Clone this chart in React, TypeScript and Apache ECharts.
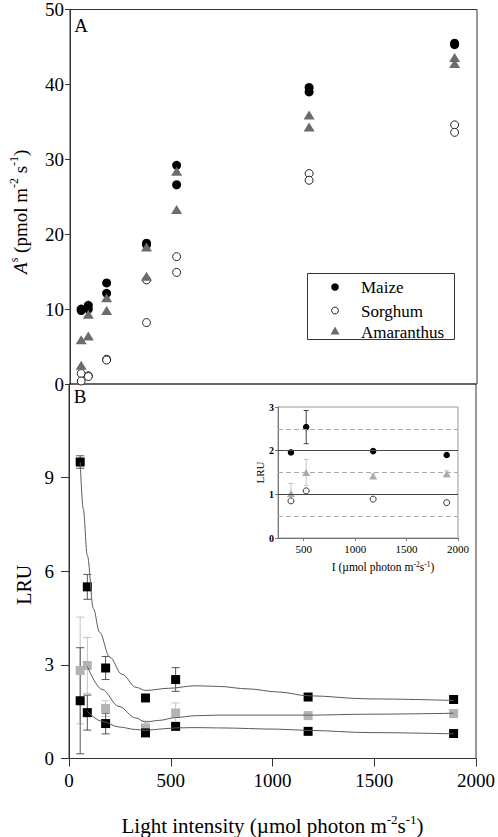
import React, { useEffect, useRef } from 'react';
import * as echarts from 'echarts';

const FONT = 'Liberation Serif';

// ---------- Panel A: net assimilation, two replicates per light level ----------
const lightLevels = [55, 90, 180, 376, 524, 1175, 1890];
const maizeRep1 = [10.0, 10.5, 13.5, 18.8, 29.2, 39.6, 45.5];
const maizeRep2 = [9.8, 10.0, 12.1, 18.6, 26.6, 39.0, 45.3];
const sorghumRep1 = [1.4, 1.1, 3.3, 13.9, 17.0, 28.1, 34.6];
const sorghumRep2 = [0.4, 1.0, 3.2, 8.2, 14.9, 27.2, 33.6];
const amaranthusRep1 = [5.9, 9.3, 11.5, 18.3, 28.4, 35.9, 43.6];
const amaranthusRep2 = [2.5, 6.4, 9.8, 14.4, 23.3, 34.3, 42.8];
const speciesNames = ['Maize', 'Sorghum', 'Amaranthus'];

// ---------- Panel B: LRU means and errors ----------
const maizeLRU = [9.5, 5.5, 2.9, 1.94, 2.53, 1.97, 1.89];
const maizeLRUErr = [0.2, 0.4, 0.37, 0.05, 0.38, 0.04, 0.04];
const amaranthusLRU = [2.82, 2.98, 1.6, 0.98, 1.46, 1.375, 1.44];
const amaranthusLRUErr = [1.71, 0.9, 0.25, 0.22, 0.32, 0.04, 0.04];
const sorghumLRU = [1.85, 1.47, 1.12, 0.82, 1.03, 0.87, 0.8];
const sorghumLRUErr = [1.7, 0.56, 0.33, 0.1, 0.1, 0.03, 0.03];

// fitted curves
const maizeFitX = [55, 70, 90, 120, 150, 200, 260, 330, 376, 490, 620, 735, 880, 1030, 1175, 1475, 1890];
const maizeFitY = [9.5, 8.0, 6.5, 4.8, 4.05, 3.25, 2.7, 2.28, 2.18, 2.25, 2.33, 2.31, 2.23, 2.13, 2.01, 1.91, 1.86];
const amaranthusFitX = [90, 163, 245, 327, 376, 441, 523, 621, 735, 1029, 1175, 1475, 1890];
const amaranthusFitY = [2.95, 2.21, 1.67, 1.3, 1.17, 1.22, 1.31, 1.37, 1.39, 1.39, 1.39, 1.42, 1.45];
const sorghumFitX = [90, 163, 245, 327, 376, 441, 523, 621, 735, 1029, 1175, 1475, 1890];
const sorghumFitY = [1.51, 1.19, 1.01, 0.93, 0.9, 0.94, 0.98, 0.99, 0.98, 0.94, 0.9, 0.83, 0.79];

// ---------- Inset ----------
const insetLight = [376, 524, 1175, 1890];
const insetMaize = [1.96, 2.54, 1.99, 1.9];
const insetMaizeErr = [0, 0.38, 0, 0];
const insetAmaranthus = [1.02, 1.5, 1.42, 1.47];
const insetAmaranthusErr = [0.23, 0.3, 0.05, 0.07];
const insetSorghum = [0.85, 1.08, 0.89, 0.81];
const insetSolidRefs = [1, 2];
const insetDashedRefs = [0.5, 1.5, 2.5];
const insetXTicks = [500, 1000, 1500, 2000];

const pairs = (xs: number[], ys: number[]) => xs.map((x, i) => [x, ys[i]]);
const triples = (xs: number[], ys: number[], es: number[]) => xs.map((x, i) => [x, ys[i], es[i]]);
const asRich = (v: number | string) => `{n|${v}}`;

function errorBars(capHalf: number, color: string) {
  return (_params: any, api: any) => {
    const x = api.value(0);
    const y = api.value(1);
    const e = api.value(2);
    if (!e) return { type: 'group', children: [] };
    const top = api.coord([x, y + e]);
    const bot = api.coord([x, y - e]);
    const style = { stroke: color, lineWidth: 1 };
    return {
      type: 'group',
      children: [
        { type: 'line', shape: { x1: top[0], y1: top[1], x2: bot[0], y2: bot[1] }, style },
        { type: 'line', shape: { x1: top[0] - capHalf, y1: top[1], x2: top[0] + capHalf, y2: top[1] }, style },
        { type: 'line', shape: { x1: bot[0] - capHalf, y1: bot[1], x2: bot[0] + capHalf, y2: bot[1] }, style },
      ],
    };
  };
}

const richBig = {
  t: { fontSize: 21, fontFamily: FONT, color: '#000', lineHeight: 26 },
  sup: { fontSize: 13, fontFamily: FONT, color: '#000', lineHeight: 12, verticalAlign: 'top' },
};
const richY = {
  it: { fontSize: 19, fontFamily: FONT, fontStyle: 'italic', color: '#000', lineHeight: 24 },
  t: { fontSize: 19, fontFamily: FONT, color: '#000', lineHeight: 24 },
  sup: { fontSize: 12, fontFamily: FONT, color: '#000', lineHeight: 11, verticalAlign: 'top' },
};
const richSmall = {
  t: { fontSize: 11.5, fontFamily: FONT, color: '#000', lineHeight: 14 },
  sup: { fontSize: 7.5, fontFamily: FONT, color: '#000', lineHeight: 7, verticalAlign: 'top' },
};
const tickRich = { n: { fontSize: 19, fontFamily: FONT, color: '#000' } };
const insetXRich = { n: { fontSize: 11, fontFamily: FONT, color: '#000' } };
const insetYRich = { n: { fontSize: 10, fontWeight: 'bold', fontFamily: FONT, color: '#000' } };

const AMARANTHUS_GREY = '#6b6b6b';

export default function App() {
  const ref = useRef<HTMLDivElement>(null);

  useEffect(() => {
    if (!ref.current) return;
    const chart = echarts.init(ref.current, undefined, { renderer: 'svg' });
    const axisColor = '#333';
    const curveStyle = { color: '#5a5a5a', width: 1 };
    const legendText = (text: string, y: number) => ({
      type: 'text', x: 361, y,
      style: { text, fontSize: 17, fontFamily: FONT, fill: '#000', align: 'left', verticalAlign: 'middle' },
    });

    const option: any = {
      animation: false,
      backgroundColor: '#fff',
      textStyle: { fontFamily: FONT },
      grid: [
        { left: 69, top: 9, width: 408, height: 375, show: true, borderColor: axisColor, borderWidth: 1 },
        { left: 69, top: 384, width: 408, height: 375, show: true, borderColor: axisColor, borderWidth: 1 },
        { left: 278, top: 407, width: 180, height: 131, show: true, borderColor: '#999', borderWidth: 1, backgroundColor: '#fff' },
      ],
      xAxis: [
        {
          gridIndex: 0, type: 'value', min: 0, max: 2000, interval: 500,
          axisLine: { show: false }, axisTick: { show: false }, axisLabel: { show: false }, splitLine: { show: false },
        },
        {
          gridIndex: 1, type: 'value', min: 0, max: 2000, interval: 500,
          axisLine: { show: true, onZero: false, lineStyle: { color: axisColor } },
          axisTick: { show: true, inside: false, length: 8, lineStyle: { color: axisColor } },
          axisLabel: { fontSize: 19, fontFamily: FONT, color: '#000', margin: 12, formatter: asRich, rich: tickRich },
          splitLine: { show: false },
          name: '{t|Light intensity (µmol photon m}{sup|-2}{t|s}{sup|-1}{t|)}',
          nameLocation: 'middle', nameGap: 54,
          nameTextStyle: { rich: richBig },
        },
        {
          gridIndex: 2, type: 'value', min: 250, max: 2000,
          axisLine: { show: true, onZero: false, lineStyle: { color: '#777' } },
          axisTick: { show: true, length: 3, customValues: insetXTicks, lineStyle: { color: '#777' } },
          axisLabel: { fontSize: 11, fontFamily: FONT, color: '#000', margin: 5, customValues: insetXTicks, formatter: asRich, rich: insetXRich },
          splitLine: { show: false },
          name: '{t|I (µmol photon m}{sup|-2}{t|s}{sup|-1}{t|)}',
          nameLocation: 'middle', nameGap: 22,
          nameTextStyle: { rich: richSmall, padding: [0, 0, 0, 30] },
        },
      ],
      yAxis: [
        {
          gridIndex: 0, type: 'value', min: 0, max: 50, interval: 10,
          axisLine: { show: true, onZero: false, lineStyle: { color: axisColor } },
          axisTick: { show: true, length: 5, lineStyle: { color: axisColor } },
          axisLabel: { fontSize: 19, fontFamily: FONT, color: '#000', margin: 6, formatter: asRich, rich: tickRich },
          splitLine: { show: false },
          name: '{it|A}{sup|s}{t| (pmol m}{sup|-2}{t| s}{sup|-1}{t|)}',
          nameLocation: 'middle', nameGap: 38, nameRotate: 90,
          nameTextStyle: { rich: richY, padding: [0, 30, 0, 0] },
        },
        {
          gridIndex: 1, type: 'value', min: 0, max: 12, interval: 3,
          axisLine: { show: true, onZero: false, lineStyle: { color: axisColor } },
          axisTick: { show: true, length: 8, lineStyle: { color: axisColor } },
          axisLabel: { fontSize: 19, fontFamily: FONT, color: '#000', margin: 15, showMaxLabel: false, formatter: asRich, rich: tickRich },
          splitLine: { show: false },
          name: 'LRU', nameLocation: 'middle', nameGap: 35, nameRotate: 90,
          nameTextStyle: { fontSize: 20, fontFamily: FONT, color: '#000', padding: [0, 27, 0, 0] },
        },
        {
          gridIndex: 2, type: 'value', min: 0, max: 3, interval: 1,
          axisLine: { show: true, onZero: false, lineStyle: { color: '#777' } },
          axisTick: { show: true, length: 3, lineStyle: { color: '#777' } },
          axisLabel: { fontSize: 10, fontWeight: 'bold', fontFamily: FONT, color: '#000', margin: 4, formatter: asRich, rich: insetYRich },
          splitLine: { show: false },
          name: 'LRU', nameLocation: 'middle', nameGap: 13, nameRotate: 90,
          nameTextStyle: { fontSize: 11, fontFamily: FONT, color: '#000' },
        },
      ],
      graphic: [
        { type: 'text', x: 81, y: 25, style: { text: 'A', fontSize: 19, fontFamily: FONT, fill: '#000', align: 'center', verticalAlign: 'middle' } },
        { type: 'text', x: 80, y: 396, style: { text: 'B', fontSize: 19, fontFamily: FONT, fill: '#000', align: 'center', verticalAlign: 'middle' } },
        // legend box for panel A
        {
          type: 'group',
          children: [
            { type: 'rect', shape: { x: 307.5, y: 273.5, width: 147, height: 66 }, style: { fill: '#fff', stroke: '#333', lineWidth: 1 } },
            { type: 'circle', shape: { cx: 335, cy: 287, r: 3.8 }, style: { fill: '#000' } },
            { type: 'circle', shape: { cx: 335, cy: 310.5, r: 3.4 }, style: { fill: '#fff', stroke: '#222', lineWidth: 1 } },
            { type: 'polygon', shape: { points: [[330.5, 334.5], [339.5, 334.5], [335, 326.5]] }, style: { fill: AMARANTHUS_GREY } },
            legendText(speciesNames[0], 287.5),
            legendText(speciesNames[1], 311),
            legendText(speciesNames[2], 332.5),
          ],
        },
      ],
      series: [
        // ---- Panel A ----
        {
          name: speciesNames[1], type: 'scatter', xAxisIndex: 0, yAxisIndex: 0,
          symbol: 'circle', symbolSize: 8,
          itemStyle: { color: '#fff', borderColor: '#222', borderWidth: 1, opacity: 1 },
          data: [...pairs(lightLevels, sorghumRep1), ...pairs(lightLevels, sorghumRep2)],
        },
        {
          name: speciesNames[0], type: 'scatter', xAxisIndex: 0, yAxisIndex: 0,
          symbol: 'circle', symbolSize: 9,
          itemStyle: { color: '#000', opacity: 1 },
          data: [...pairs(lightLevels, maizeRep1), ...pairs(lightLevels, maizeRep2)],
        },
        {
          name: speciesNames[2], type: 'scatter', xAxisIndex: 0, yAxisIndex: 0,
          symbol: 'triangle', symbolSize: [11, 9],
          itemStyle: { color: AMARANTHUS_GREY, opacity: 1 },
          data: [...pairs(lightLevels, amaranthusRep1), ...pairs(lightLevels, amaranthusRep2)],
        },
        // ---- Panel B curves ----
        {
          name: 'Maize fit', type: 'line', xAxisIndex: 1, yAxisIndex: 1,
          smooth: 0.35, smoothMonotone: 'x', showSymbol: false, symbol: 'none',
          lineStyle: curveStyle, data: pairs(maizeFitX, maizeFitY), silent: true,
        },
        {
          name: 'Amaranthus fit', type: 'line', xAxisIndex: 1, yAxisIndex: 1,
          smooth: 0.35, smoothMonotone: 'x', showSymbol: false, symbol: 'none',
          lineStyle: curveStyle, data: pairs(amaranthusFitX, amaranthusFitY), silent: true,
        },
        {
          name: 'Sorghum fit', type: 'line', xAxisIndex: 1, yAxisIndex: 1,
          smooth: 0.35, smoothMonotone: 'x', showSymbol: false, symbol: 'none',
          lineStyle: curveStyle, data: pairs(sorghumFitX, sorghumFitY), silent: true,
        },
        // ---- Panel B error bars ----
        {
          name: 'Amaranthus LRU error', type: 'custom', xAxisIndex: 1, yAxisIndex: 1,
          renderItem: errorBars(4, '#c4c4c4'), encode: { x: 0, y: 1 },
          data: triples(lightLevels, amaranthusLRU, amaranthusLRUErr),
        },
        {
          name: 'Maize LRU error', type: 'custom', xAxisIndex: 1, yAxisIndex: 1,
          renderItem: errorBars(4, '#555'), encode: { x: 0, y: 1 },
          data: triples(lightLevels, maizeLRU, maizeLRUErr),
        },
        {
          name: 'Sorghum LRU error', type: 'custom', xAxisIndex: 1, yAxisIndex: 1,
          renderItem: errorBars(4, '#555'), encode: { x: 0, y: 1 },
          data: triples(lightLevels, sorghumLRU, sorghumLRUErr),
        },
        // ---- Panel B points ----
        {
          name: 'Amaranthus LRU', type: 'scatter', xAxisIndex: 1, yAxisIndex: 1,
          symbol: 'rect', symbolSize: 9, itemStyle: { color: '#b3b3b3', opacity: 1 },
          data: pairs(lightLevels, amaranthusLRU),
        },
        {
          name: 'Maize LRU', type: 'scatter', xAxisIndex: 1, yAxisIndex: 1,
          symbol: 'rect', symbolSize: 9, itemStyle: { color: '#000', opacity: 1 },
          data: pairs(lightLevels, maizeLRU),
        },
        {
          name: 'Sorghum LRU', type: 'scatter', xAxisIndex: 1, yAxisIndex: 1,
          symbol: 'rect', symbolSize: 9, itemStyle: { color: '#000', opacity: 1 },
          data: pairs(lightLevels, sorghumLRU),
        },
        // ---- Inset ----
        {
          name: 'Inset references', type: 'line', xAxisIndex: 2, yAxisIndex: 2,
          data: [], silent: true,
          markLine: {
            silent: true, symbol: ['none', 'none'], label: { show: false },
            data: [
              ...insetSolidRefs.map((v) => ({ yAxis: v, lineStyle: { type: 'solid', color: '#444', width: 1 } })),
              ...insetDashedRefs.map((v) => ({ yAxis: v, lineStyle: { type: [5, 3], color: '#aaa', width: 1 } })),
            ],
          },
        },
        {
          name: 'Inset Amaranthus error', type: 'custom', xAxisIndex: 2, yAxisIndex: 2,
          renderItem: errorBars(2.5, '#c4c4c4'), encode: { x: 0, y: 1 },
          data: triples(insetLight, insetAmaranthus, insetAmaranthusErr),
        },
        {
          name: 'Inset Maize error', type: 'custom', xAxisIndex: 2, yAxisIndex: 2,
          renderItem: errorBars(2.5, '#444'), encode: { x: 0, y: 1 },
          data: triples(insetLight, insetMaize, insetMaizeErr),
        },
        {
          name: 'Inset Sorghum', type: 'scatter', xAxisIndex: 2, yAxisIndex: 2,
          symbol: 'circle', symbolSize: 6,
          itemStyle: { color: '#fff', borderColor: '#333', borderWidth: 1, opacity: 1 },
          data: pairs(insetLight, insetSorghum),
        },
        {
          name: 'Inset Amaranthus', type: 'scatter', xAxisIndex: 2, yAxisIndex: 2,
          symbol: 'triangle', symbolSize: [8, 7], itemStyle: { color: '#aaa', opacity: 1 },
          data: pairs(insetLight, insetAmaranthus),
        },
        {
          name: 'Inset Maize', type: 'scatter', xAxisIndex: 2, yAxisIndex: 2,
          symbol: 'circle', symbolSize: 6.5, itemStyle: { color: '#000', opacity: 1 },
          data: pairs(insetLight, insetMaize),
        },
      ],
    };

    chart.setOption(option);
    return () => chart.dispose();
  }, []);

  return (
    <div
      ref={ref}
      style={{ position: 'absolute', left: 0, top: 0, width: 498, height: 837, background: '#fff' }}
    />
  );
}
